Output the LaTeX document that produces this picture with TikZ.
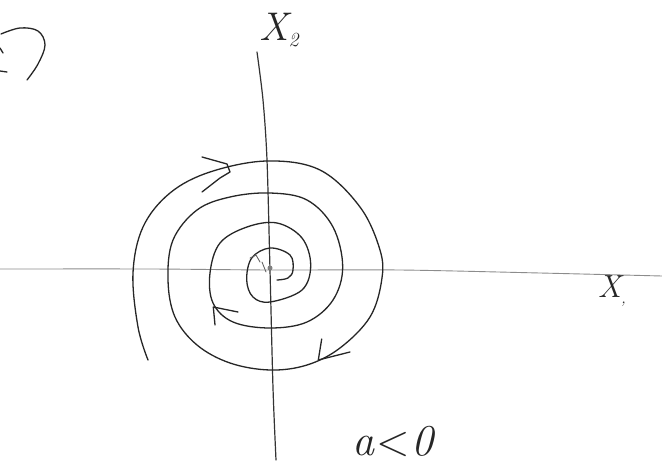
\documentclass[tikz,border=0pt]{standalone}
\usepackage{fontspec}
\begin{document}
\begin{tikzpicture}[x=1pt,y=-1pt,
  pencil/.style={draw=black!85,line width=1.3pt,line cap=round,line join=round},
  axisx/.style={draw=black!45,line width=0.9pt,line cap=round},
  axisy/.style={draw=black!80,line width=1.2pt,line cap=round},
  hand/.style={inner sep=0pt,text=black!85}]
\useasboundingbox[fill=white] (0,0) rectangle (662,466);

% circled mark top-left (cut off)
\draw[pencil] plot[smooth,tension=0.6] coordinates {(1,34) (20,28) (38,31) (45,45) (38,64) (27,80)};
\draw[pencil] (0,48) -- (3,53);
\draw[pencil] (0,71) -- (7,72);

% axes
\draw[axisx] plot[smooth] coordinates {(0,269) (150,269) (270,270) (400,270) (540,273) (662,276)};
\draw[axisy] plot[smooth] coordinates {(257,52) (263,100) (267,160) (270,270) (273,388) (276,460)};

% spiral
\draw[pencil] plot[smooth,tension=0.6] coordinates {
 (148,360) (138,327) (133,273) (143,227) (170,193) (210,172) (267,161)
 (320,170) (360,207) (380,250) (381.7,280) (370,317) (340,348) (307,365)
 (270,370) (230,363) (197,345) (175,317) (168,280) (173,240) (197,210)
 (230,197) (270,193) (307,200) (333,227) (342.7,267) (333,300) (307,322)
 (270,328) (233,322) (213,303) (210,273) (220,243) (247,227) (277,223)
 (302,238) (310.7,265) (302,290) (270,302) (253,297) (246.7,280)
 (251.7,258) (270,248) (290,255) (293,270) (288,278) (277,280)};

% centre scribble
\draw[pencil,line width=0.9pt,draw=black!60] (250,258) -- (256,255) -- (260,262) (262,262) -- (266,272);
\fill[black!50] (270,268) circle (2.5);

% arrow marks
\draw[pencil] (202,157) -- (227,164) -- (230,172) -- (220,178) -- (202,192);
\draw[pencil] (215,325) -- (213.3,307) -- (238,312);
\draw[pencil] (321.7,339) -- (318.3,360) -- (350,352);

% labels
\node[hand,font=\fontsize{40}{44}\selectfont\itshape] (x2) at (279,30) {X\raisebox{-6pt}{\fontsize{20}{22}\selectfont 2}};
\node[hand,font=\fontsize{32}{36}\selectfont\itshape] (x1) at (612,291) {X\raisebox{-6pt}{\fontsize{16}{18}\selectfont,}};
\node[hand,font=\fontsize{44}{48}\selectfont\itshape] (cond) at (393,441) {a\kern2pt{\upshape\textless}\kern2pt0};
\end{tikzpicture}
\end{document}
